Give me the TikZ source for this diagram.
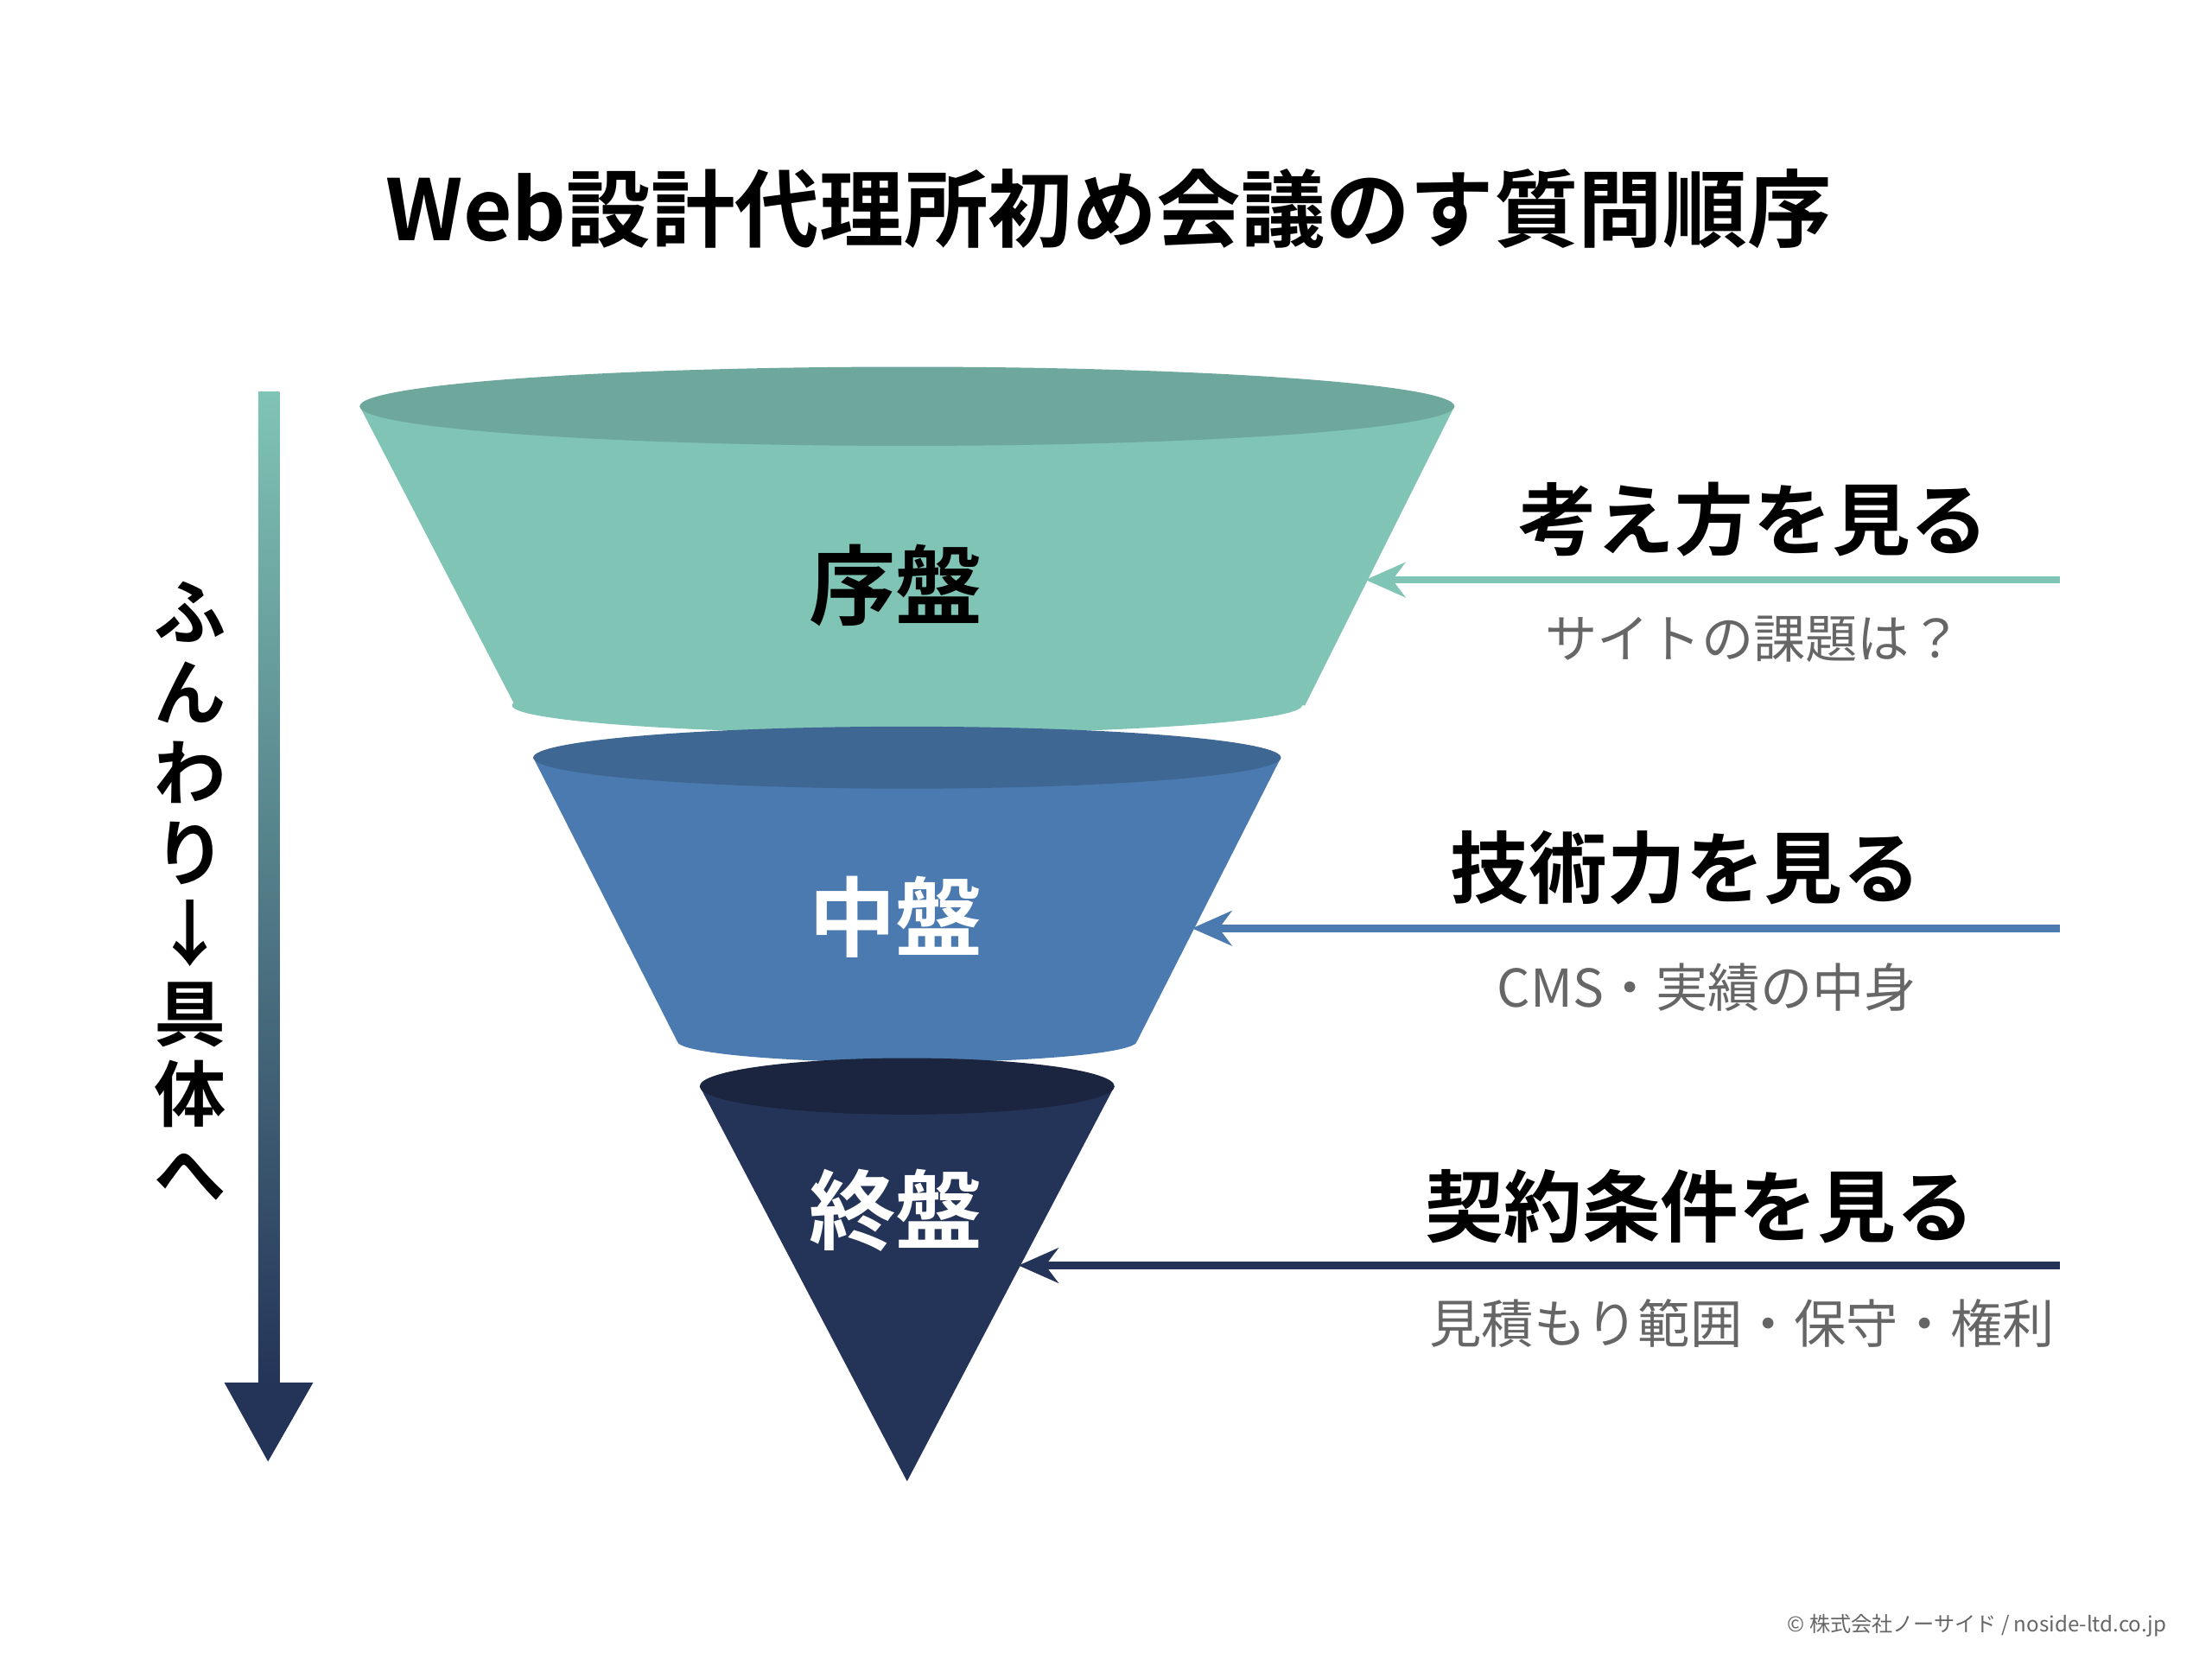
\documentclass[tikz,border=0pt]{standalone}
\usepackage{fontspec}
\setmainfont{Noto Sans CJK JP}[BoldFont={Noto Sans CJK JP Bold}]
\usetikzlibrary{arrows.meta}
\definecolor{tealA}{HTML}{80C4B5}
\definecolor{tealB}{HTML}{6EA89D}
\definecolor{blueA}{HTML}{4A7AB0}
\definecolor{blueB}{HTML}{3E6793}
\definecolor{navyA}{HTML}{243358}
\definecolor{navyB}{HTML}{1B2540}
\definecolor{subgray}{HTML}{666666}
\begin{document}
\begin{tikzpicture}[x=0.01cm,y=-0.01cm,
    stage/.style={font=\fontsize{17.5}{20}\selectfont\bfseries},
    head/.style={font=\fontsize{15.8}{18}\selectfont\bfseries},
    sub/.style={font=\fontsize{10.5}{12}\selectfont, text=subgray},
    pointer/.style={line width=1.5pt, -{Stealth[length=8pt,width=7pt]}}]
  \fill[white] (0,0) rectangle (1568,1170);
  % title
  \node[font=\fontsize{17}{20}\selectfont\bfseries] (title) at (786,148) {Web設計代理所初め会議のす質問順序};
  % funnel: top stage
  \fill[tealA] (255,288) -- (365,500) -- (925,500) -- (1031,288) -- cycle;
  \fill[tealA] (643,500) circle[x radius=280, y radius=20];
  \fill[tealB] (643,288) circle[x radius=388, y radius=28];
  % middle stage
  \fill[blueA] (378,537) -- (480,738) -- (806,738) -- (908,537) -- cycle;
  \fill[blueA] (643,738) circle[x radius=163, y radius=15];
  \fill[blueB] (643,537) circle[x radius=265, y radius=22];
  % bottom stage
  \fill[navyA] (496,770) -- (643,1050) -- (790,770) -- cycle;
  \fill[navyB] (643,770) circle[x radius=147, y radius=20];
  \node[stage] (early) at (635,415) {序盤};
  \node[stage, text=white] (mid) at (635,650) {中盤};
  \node[stage, text=white] (late) at (635,858) {終盤};
  % right side labels
  \coordinate (e1) at (1460,411);
  \coordinate (e2) at (1460,658);
  \coordinate (e3) at (1460,897);
  \coordinate (t1) at (968,411);
  \coordinate (t2) at (845,658);
  \coordinate (t3) at (722,897);
  \draw[pointer, tealA] (e1) -- (t1);
  \draw[pointer, blueA] (e2) -- (t2);
  \draw[pointer, navyA] (e3) -- (t3);
  \node[head] (h1) at (1243,368) {考え方を見る};
  \node[sub] (s1) at (1243,453) {サイトの課題は？};
  \node[head] (h2) at (1195,615) {技術力を見る};
  \node[sub] (s2) at (1210,700) {CMS・実績の中身};
  \node[head] (h3) at (1205,855) {契約条件を見る};
  \node[sub] (s3) at (1235,938) {見積もり範囲・保守・権利};
  % left arrow
  \shade[top color=tealA, bottom color=navyA] (183,278) rectangle (198,985);
  \fill[navyA] (159,980) -- (222,980) -- (190,1036) -- cycle;
  \node[font=\fontsize{14.5}{16.2}\selectfont\bfseries, align=center] (flow) at (135,632)
    {ふ\\ん\\わ\\り\\↓\\具\\体\\へ};
  % footer
  \node[font=\fontsize{4.2}{5}\selectfont, text=subgray, anchor=east] (foot) at (1548,1152)
    {© 株式会社ノーサイド / noside-ltd.co.jp};
\end{tikzpicture}
\end{document}
